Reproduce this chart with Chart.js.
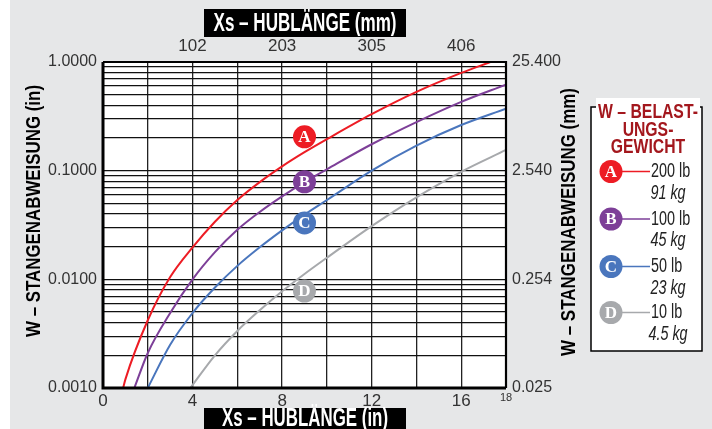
<!DOCTYPE html>
<html>
<head>
<meta charset="utf-8">
<script src="https://cdn.jsdelivr.net/npm/chart.js@4.4.1/dist/chart.umd.min.js"></script>
<style>
  body { margin: 0; background: #e6e7e8; }
  #wrap { width: 712px; height: 429px; }
</style>
</head>
<body>
<div id="wrap"><canvas id="myChart" width="712" height="429"></canvas></div>
<script>
// stroke length Xs (in) and rod deflection W (in)
var redX = [0.9, 1.0, 2, 3, 4, 5, 6, 7, 8, 9, 10, 12, 14, 16, 17.3];
var redW = [0.001, 0.0012, 0.0042, 0.0105, 0.0197, 0.0339, 0.0537, 0.0785, 0.1096, 0.148, 0.195, 0.331, 0.531, 0.794, 1.0];
var purpleX = [1.4, 2, 3, 4, 5, 6, 7, 8, 9, 10, 12, 14, 16, 18];
var purpleW = [0.001, 0.0021, 0.0049, 0.010, 0.0178, 0.0286, 0.0417, 0.058, 0.0785, 0.103, 0.175, 0.28, 0.43, 0.62];
var blueX = [2, 3, 4, 5, 6, 7, 8, 9, 10, 12, 14, 16, 18];
var blueW = [0.001, 0.0025, 0.0049, 0.0084, 0.0133, 0.0197, 0.0282, 0.0394, 0.0537, 0.100, 0.170, 0.263, 0.372];
var grayX = [3.9, 5, 6, 7, 8, 9, 10, 12, 14, 16, 18];
var grayW = [0.001, 0.002, 0.00335, 0.00519, 0.00776, 0.0112, 0.0158, 0.0309, 0.0569, 0.0977, 0.155];

// letter badges on the curves
var markLetters = ["A", "B", "C", "D"];
var markX = [9.0, 9.0, 9.0, 9.0];
var markW = [0.205, 0.079, 0.033, 0.0078];

// legend
var loadLb = ["200 lb", "100 lb", "50 lb", "10 lb"];
var loadKg = ["91 kg", "45 kg", "23 kg", "4.5 kg"];

// ticks
var xGrid = [0, 2, 4, 6, 8, 10, 12, 14, 16, 18];
var xLabelVals = [0, 4, 8, 12, 16, 18];
var mmVals = [4, 8, 12, 16];
var mmLabels = ["102", "203", "305", "406"];
var yDecades = [0.001, 0.01, 0.1, 1];
var yLabelsIn = ["0.0010", "0.0100", "0.1000", "1.0000"];
var yLabelsMm = ["0.025", "0.254", "2.540", "25.400"];

var colors = ["#ed1c24", "#7d3f98", "#4a76bd", "#a7a9ac"];

var yGrid = [];
[-3, -2, -1].forEach(function (e) {
  for (var m = 1; m <= 9; m++) yGrid.push(m * Math.pow(10, e));
});
yGrid.push(1);

function pts(xs, ws) {
  return xs.map(function (x, i) { return { x: x, y: ws[i] }; });
}
function decadeIndex(v) {
  for (var i = 0; i < yDecades.length; i++) {
    if (Math.abs(v - yDecades[i]) / yDecades[i] < 1e-6) return i;
  }
  return -1;
}

function txt(ctx, s, x, y, font, color, sx, align, rot) {
  ctx.save();
  ctx.font = font;
  ctx.fillStyle = color;
  ctx.textBaseline = "middle";
  ctx.textAlign = align || "center";
  ctx.translate(x, y);
  if (rot) ctx.rotate(rot);
  ctx.scale(sx, 1);
  ctx.fillText(s, 0, 0);
  ctx.restore();
}
function fitW(ctx, s, font, w) {
  ctx.save();
  ctx.font = font;
  var m = ctx.measureText(s).width;
  ctx.restore();
  return w / m;
}

var decor = {
  id: "decor",
  beforeDraw: function (chart) {
    var ctx = chart.ctx, a = chart.chartArea;
    ctx.save();
    ctx.fillStyle = "#e6e7e8";
    ctx.fillRect(0, 0, 712, 429);
    ctx.fillStyle = "#fff";
    ctx.fillRect(0, 0, 10, 429);
    ctx.fillRect(a.left, a.top, a.right - a.left, a.bottom - a.top);
    ctx.restore();
  },
  afterDatasetsDraw: function (chart) {
    var ctx = chart.ctx, a = chart.chartArea;
    var sx = chart.scales.x, sy = chart.scales.y;
    ctx.save();
    // plot frame
    ctx.strokeStyle = "#000";
    ctx.lineWidth = 3;
    ctx.beginPath();
    ctx.moveTo(a.left, a.top); ctx.lineTo(a.left, a.bottom); ctx.lineTo(a.right, a.bottom);
    ctx.stroke();
    ctx.lineWidth = 2.2;
    ctx.beginPath();
    ctx.moveTo(a.left, a.top); ctx.lineTo(a.right, a.top); ctx.lineTo(a.right, a.bottom);
    ctx.stroke();

    // badges on curves
    markLetters.forEach(function (l, i) {
      var px = sx.getPixelForValue(markX[i]), py = sy.getPixelForValue(markW[i]);
      ctx.fillStyle = colors[i];
      ctx.beginPath(); ctx.arc(px, py, 11.5, 0, Math.PI * 2); ctx.fill();
      txt(ctx, l, px, py + 1, "bold 17px 'Liberation Serif'", "#fff", 1, "center");
    });

    // title boxes
    ctx.fillStyle = "#000";
    ctx.fillRect(204, 9, 202, 28);
    ctx.fillRect(204, 408, 202, 21);
    var f1 = "bold 25px 'Liberation Sans'";
    txt(ctx, "Xs – HUBLÄNGE (mm)", 305, 24, f1, "#fff", fitW(ctx, "Xs – HUBLÄNGE (mm)", f1, 183), "center");
    txt(ctx, "Xs – HUBLÄNGE (in)", 305, 419, f1, "#fff", fitW(ctx, "Xs – HUBLÄNGE (in)", f1, 166), "center");

    var f2 = "bold 21px 'Liberation Sans'";
    txt(ctx, "W – STANGENABWEISUNG (in)", 34, 211, f2, "#000",
        fitW(ctx, "W – STANGENABWEISUNG (in)", f2, 252), "center", -Math.PI / 2);
    txt(ctx, "W – STANGENABWEISUNG (mm)", 569, 222, f2, "#000",
        fitW(ctx, "W – STANGENABWEISUNG (mm)", f2, 268), "center", -Math.PI / 2);

    // legend box
    ctx.fillStyle = "#fff";
    ctx.fillRect(591, 107, 111, 244);
    ctx.strokeStyle = "#000";
    ctx.lineWidth = 1.5;
    ctx.strokeRect(591, 107, 111, 244);
    ctx.fillRect(596, 98, 104, 20);
    var red = "#a3171d", ft = "bold 21px 'Liberation Sans'";
    txt(ctx, "W – BELAST-", 648, 112, ft, red, 0.75, "center");
    txt(ctx, "UNGS-", 648, 130, ft, red, 0.75, "center");
    txt(ctx, "GEWICHT", 648, 147, ft, red, 0.75, "center");

    var rows = [171.5, 219, 266.5, 312.5];
    markLetters.forEach(function (l, i) {
      var y = rows[i];
      ctx.strokeStyle = colors[i];
      ctx.lineWidth = 1.5;
      ctx.beginPath(); ctx.moveTo(611, y); ctx.lineTo(650, y); ctx.stroke();
      ctx.fillStyle = colors[i];
      ctx.beginPath(); ctx.arc(611, y, 11.5, 0, Math.PI * 2); ctx.fill();
      txt(ctx, l, 611, y + 1, "bold 17px 'Liberation Serif'", "#fff", 1, "center");
      txt(ctx, loadLb[i], 651, y, "20px 'Liberation Sans'", "#222", 0.72, "left");
      txt(ctx, loadKg[i], 668, y + 21.5, "italic 20px 'Liberation Sans'", "#222", 0.72, "center");
    });
    ctx.restore();
  }
};

var tickFont = { family: "'Liberation Sans'", size: 16 };

var data1 = {
  datasets: [
    { label: "A", data: pts(redX, redW), borderColor: colors[0] },
    { label: "B", data: pts(purpleX, purpleW), borderColor: colors[1] },
    { label: "C", data: pts(blueX, blueW), borderColor: colors[2] },
    { label: "D", data: pts(grayX, grayW), borderColor: colors[3] }
  ].map(function (d) {
    d.borderWidth = 2;
    d.pointRadius = 0;
    d.fill = false;
    d.cubicInterpolationMode = "monotone";
    d.xAxisID = "x";
    d.yAxisID = "y";
    return d;
  })
};

var options = {
  responsive: false,
  animation: false,
  layout: { padding: 0 },
  plugins: { legend: { display: false }, title: { display: false }, tooltip: { enabled: false } },
  scales: {
    x: {
      type: "linear", position: "bottom", min: 0, max: 18,
      afterBuildTicks: function (s) { s.ticks = xGrid.map(function (v) { return { value: v }; }); },
      afterFit: function (s) { s.height = 41; },
      grid: { color: "#222", lineWidth: 1.3, drawTicks: false },
      border: { display: false },
      ticks: {
        autoSkip: false, maxRotation: 0, padding: 3, color: "#333",
        font: function (c) {
          return { family: "'Liberation Sans'", size: (c.tick && c.tick.value === 18) ? 11 : 17 };
        },
        callback: function (v) { return xLabelVals.indexOf(v) >= 0 ? String(v) : ""; }
      }
    },
    x2: {
      type: "linear", position: "top", min: 0, max: 18,
      afterBuildTicks: function (s) { s.ticks = mmVals.map(function (v) { return { value: v }; }); },
      afterFit: function (s) { s.height = 62; },
      grid: { display: false, drawTicks: false },
      border: { display: false },
      ticks: {
        autoSkip: false, maxRotation: 0, padding: 5, color: "#333", font: { family: "'Liberation Sans'", size: 17 },
        callback: function (v, i) { return mmLabels[i]; }
      }
    },
    y: {
      type: "logarithmic", position: "left", min: 0.001, max: 1,
      afterBuildTicks: function (s) { s.ticks = yGrid.map(function (v) { return { value: v }; }); },
      afterFit: function (s) { s.width = 103; },
      grid: { color: "#111", lineWidth: 1.3, drawTicks: false },
      border: { display: false },
      ticks: {
        autoSkip: false, padding: 6, color: "#333", font: tickFont,
        callback: function (v) { var i = decadeIndex(v); return i >= 0 ? yLabelsIn[i] : ""; }
      }
    },
    y2: {
      type: "logarithmic", position: "right", min: 0.001, max: 1,
      afterBuildTicks: function (s) { s.ticks = yDecades.map(function (v) { return { value: v }; }); },
      afterFit: function (s) { s.width = 206; },
      grid: { display: false, drawTicks: false },
      border: { display: false },
      ticks: {
        autoSkip: false, padding: 6, color: "#333", font: tickFont,
        callback: function (v) { var i = decadeIndex(v); return i >= 0 ? yLabelsMm[i] : ""; }
      }
    }
  }
};

var ctx = document.getElementById("myChart");
var myChart = new Chart(ctx, {
  type: "line",
  data: data1,
  options: options,
  plugins: [decor]
});
</script>
</body>
</html>
